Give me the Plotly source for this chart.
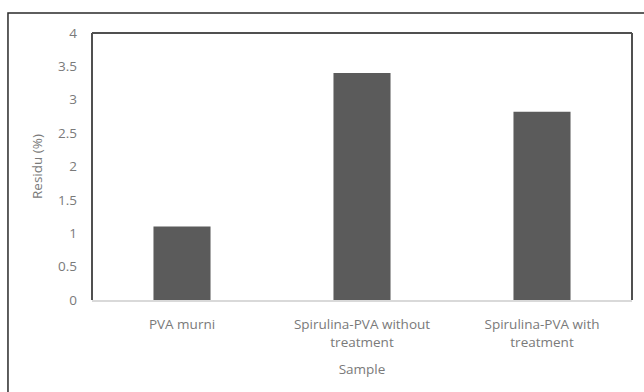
import plotly.graph_objects as go

# Residue content per sample
samples = ["PVA murni", "Spirulina-PVA without<br>treatment", "Spirulina-PVA with<br>treatment"]
residu = [1.1, 3.4, 2.82]
y_ticks = [0, 0.5, 1, 1.5, 2, 2.5, 3, 3.5, 4]
y_tick_text = ["0", "0.5", "1", "1.5", "2", "2.5", "3", "3.5", "4"]

text_color = "#7a7a7a"
font_family = "Open Sans, Lato, sans-serif"
fs = 13.5

fig = go.Figure(
    go.Bar(
        x=samples,
        y=residu,
        marker=dict(color="#5b5b5b", line=dict(width=0)),
        hoverinfo="skip",
    )
)

frame = "#505050"
shapes = [
    # outer chart border (runs off the right and bottom edge)
    dict(type="rect", xref="paper", yref="paper", x0=-0.1556, x1=1.2, y0=-0.6, y1=1.0749,
         line=dict(color="#2a2a2a", width=1.5), layer="below"),
    # plot area: left, top, right edges
    dict(type="line", xref="paper", yref="paper", x0=0, x1=0, y0=0, y1=1,
         line=dict(color=frame, width=2)),
    dict(type="line", xref="paper", yref="paper", x0=0, x1=1, y0=1, y1=1,
         line=dict(color=frame, width=2)),
    dict(type="line", xref="paper", yref="paper", x0=1, x1=1, y0=0, y1=1,
         line=dict(color=frame, width=2)),
]

fig.update_layout(
    width=644,
    height=392,
    margin=dict(l=92, r=12, t=33, b=92),
    paper_bgcolor="white",
    plot_bgcolor="white",
    bargap=0.683,
    showlegend=False,
    font=dict(family=font_family, size=fs, color=text_color),
    shapes=shapes,
    xaxis=dict(
        showline=True,
        linecolor="#d9d9d9",
        linewidth=1.5,
        showgrid=False,
        ticks="",
        ticklabelstandoff=11,
        tickfont=dict(size=fs, color=text_color),
        title=dict(text="Sample", font=dict(size=fs, color=text_color), standoff=15),
        automargin=False,
    ),
    yaxis=dict(
        range=[0, 4],
        tickvals=y_ticks,
        ticktext=y_tick_text,
        showgrid=False,
        zeroline=False,
        showline=False,
        ticks="",
        ticklabelstandoff=14,
        tickfont=dict(size=fs, color=text_color),
        title=dict(text="Residu (%)", font=dict(size=fs, color=text_color), standoff=12),
        automargin=False,
    ),
)

fig.write_html("out.html")
